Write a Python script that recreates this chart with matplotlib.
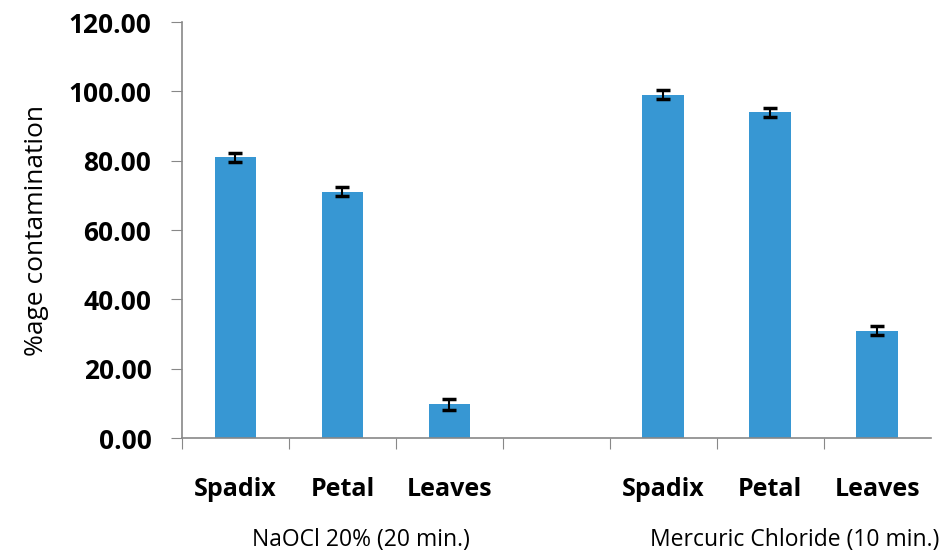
import matplotlib.pyplot as plt
import numpy as np

# data
categories = ['Spadix', 'Petal', 'Leaves', '', 'Spadix', 'Petal', 'Leaves']
values = [81.0, 71.0, 9.7, np.nan, 99.0, 94.0, 31.0]
errors = [1.3, 1.3, 1.5, np.nan, 1.3, 1.3, 1.2]
groups = ['NaOCl 20% (20 min.)', 'Mercuric Chloride (10 min.)']
group_centers = [1.17, 5.23]
yticks = [0, 20, 40, 60, 80, 100, 120]

plt.rcParams['font.family'] = ['Open Sans', 'DejaVu Sans']

fig = plt.figure(figsize=(9.5, 5.52), dpi=100)
ax = fig.add_axes([0.1916, 0.2065, 0.788, 0.7535])

x = np.arange(len(categories))
ax.bar(x, values, width=0.39, color='#3797d3', zorder=2)
ax.errorbar(x, values, yerr=errors, fmt='none', ecolor='black',
            elinewidth=1.5, capsize=5, capthick=2.5, zorder=3)

ax.set_xlim(-0.5, len(categories) - 0.5)
ax.set_ylim(0, 120)
ax.set_yticks(yticks)
ax.set_yticklabels([f'{v:.2f}' for v in yticks], fontsize=19, fontweight='bold')
ax.set_ylabel('%age contamination', fontsize=19, labelpad=14)

# ticks between categories, labels at centers
ax.set_xticks(np.arange(len(categories)) - 0.5)
ax.set_xticklabels([])
ax.set_xticks(x, minor=True)
ax.set_xticklabels(categories, minor=True, fontsize=18, fontweight='bold')
ax.tick_params(axis='x', which='major', length=8, color='#888888', direction='out')
ax.tick_params(axis='x', which='minor', length=0, pad=28)
ax.tick_params(axis='y', length=8, color='#888888', pad=14)

for s in ['top', 'right']:
    ax.spines[s].set_visible(False)
for s in ['left', 'bottom']:
    ax.spines[s].set_color('#888888')
    ax.spines[s].set_linewidth(1.2)

for g, c in zip(groups, group_centers):
    ax.text(c, -0.245, g, transform=ax.get_xaxis_transform(),
            ha='center', va='center', fontsize=16.5)

fig.savefig('out.png', dpi=100)
